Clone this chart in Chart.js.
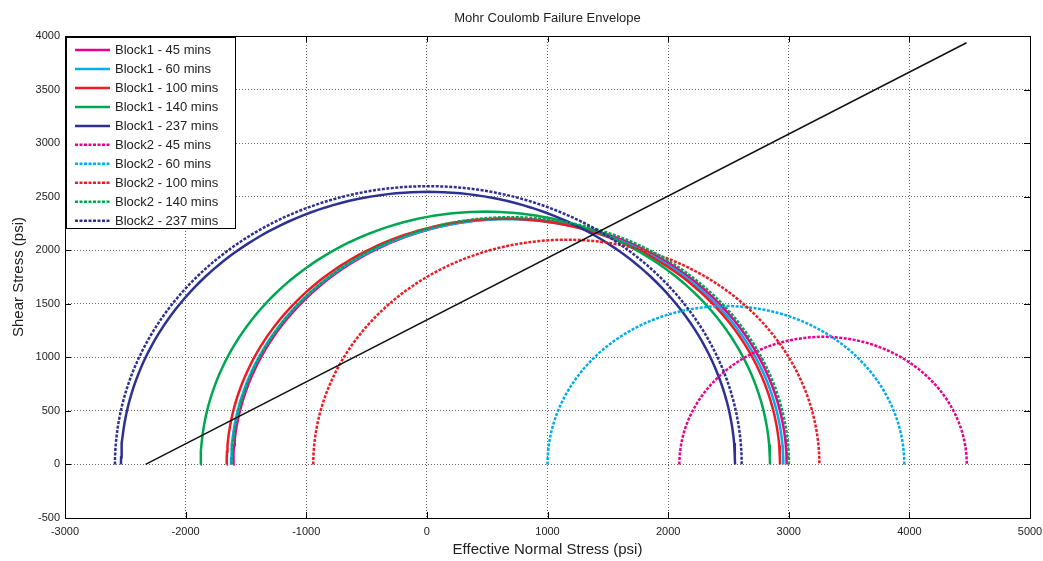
<!DOCTYPE html>
<html>
<head>
<meta charset="utf-8">
<script src="https://cdn.jsdelivr.net/npm/chart.js@4/dist/chart.umd.min.js"></script>
<style>
  html,body{margin:0;padding:0;background:#fff}
  #wrap{width:1043px;height:561px;position:relative}
</style>
</head>
<body>
<div id="wrap"><canvas id="c"></canvas></div>
<script>
// Data
const labels  = ['Block1 - 45 mins','Block1 - 60 mins','Block1 - 100 mins','Block1 - 140 mins','Block1 - 237 mins',
                 'Block2 - 45 mins','Block2 - 60 mins','Block2 - 100 mins','Block2 - 140 mins','Block2 - 237 mins']
const sigmaMin = [-1605,-1624,-1660,-1876,-2536, 2093, 1000, -942,-1615,-2586]   // left end of each circle (psi)
const sigmaMax = [ 2983, 2955, 2928, 2845, 2555, 4476, 3958, 3254, 3002, 2610]   // right end of each circle (psi)
const colors  = ['#EC008C','#00AEEF','#ED1C24','#00A651','#2E3192','#EC008C','#00AEEF','#ED1C24','#00A651','#2E3192']
const dashed  = [false,false,false,false,false,true,true,true,true,true]
const envX = [-2332, 4474]
const envY = [0, 3937]
const xTicks = [-3000,-2000,-1000,0,1000,2000,3000,4000,5000]
const yTicks = [-500,0,500,1000,1500,2000,2500,3000,3500,4000]

// half circle through the two principal stresses
function mohr(s3, s1){
  const c = (s1+s3)/2, r = (s1-s3)/2, pts = []
  for(let i=0;i<=120;i++){
    const t = Math.PI - Math.PI*i/120
    pts.push({x: c + r*Math.cos(t), y: r*Math.sin(t)})
  }
  return pts
}

const datasets = labels.map((l,i)=>({
  label: l,
  data: mohr(sigmaMin[i], sigmaMax[i]),
  borderColor: colors[i],
  borderWidth: 2.5,
  borderDash: dashed[i] ? [3,1.5] : [],
  showLine: true, pointRadius: 0, fill: false, tension: 0,
  order: 20 - i
}))
datasets.push({
  label: 'envelope',
  data: envX.map((x,i)=>({x, y: envY[i]})),
  borderColor: '#111', borderWidth: 1.5,
  showLine: true, pointRadius: 0, fill: false, order: 0
})

const FONT = 'Arial, "Liberation Sans", sans-serif'

// frame, inward ticks, titles, legend
const decor = {
  id: 'decor',
  afterDatasetsDraw(chart){
    const {ctx, chartArea:a, scales:{x, y}} = chart
    ctx.save()
    ctx.strokeStyle = '#000'; ctx.lineWidth = 1
    ctx.strokeRect(a.left+0.5, a.top+0.5, a.right-a.left, a.bottom-a.top)
    ctx.beginPath()
    xTicks.forEach(v=>{
      const px = Math.round(x.getPixelForValue(v))+0.5
      ctx.moveTo(px, a.bottom); ctx.lineTo(px, a.bottom-6)
      ctx.moveTo(px, a.top); ctx.lineTo(px, a.top+6)
    })
    yTicks.forEach(v=>{
      const py = Math.round(y.getPixelForValue(v))+0.5
      ctx.moveTo(a.left, py); ctx.lineTo(a.left+6, py)
      ctx.moveTo(a.right, py); ctx.lineTo(a.right-6, py)
    })
    ctx.stroke()

    // titles
    ctx.fillStyle = '#222'
    ctx.textAlign = 'center'; ctx.textBaseline = 'middle'
    ctx.font = '13px ' + FONT
    ctx.fillText('Mohr Coulomb Failure Envelope', (a.left+a.right)/2, 18)
    ctx.font = '15px ' + FONT
    ctx.fillText('Effective Normal Stress (psi)', (a.left+a.right)/2, 550)
    ctx.save()
    ctx.translate(19, (a.top+a.bottom)/2)
    ctx.rotate(-Math.PI/2)
    ctx.fillText('Shear Stress (psi)', 0, 0)
    ctx.restore()

    // legend
    const lx = 66.5, ly = 37.5, lw = 169, lh = 191
    ctx.fillStyle = '#fff'
    ctx.fillRect(lx, ly, lw, lh)
    ctx.strokeStyle = '#000'; ctx.lineWidth = 1
    ctx.strokeRect(lx, ly, lw, lh)
    ctx.font = '13px ' + FONT
    ctx.textAlign = 'left'
    labels.forEach((l,i)=>{
      const yy = 50 + i*18.97
      ctx.beginPath()
      ctx.strokeStyle = colors[i]; ctx.lineWidth = 2.5
      ctx.setLineDash(dashed[i] ? [3,1.5] : [])
      ctx.moveTo(75, yy); ctx.lineTo(110, yy)
      ctx.stroke()
      ctx.setLineDash([])
      ctx.fillStyle = '#222'
      ctx.fillText(l, 115, yy+0.5)
    })
    ctx.restore()
  }
}

new Chart(document.getElementById('c'), {
  type: 'scatter',
  data: { datasets },
  options: {
    responsive: true, maintainAspectRatio: false,
    animation: false,
    layout: { padding: { top: 36, right: 13, left: 0, bottom: 0 } },
    plugins: { legend: { display: false }, tooltip: { enabled: false }, title: { display: false } },
    scales: {
      x: {
        type: 'linear', min: -3000, max: 5000,
        afterBuildTicks: s => { s.ticks = xTicks.map(v=>({value:v})) },
        afterFit: s => { s.height = 43; s.paddingLeft = 0; s.paddingRight = 0 },
        grid: { color: '#666', lineWidth: 1, drawTicks: false },
        border: { display: false, dash: [1,2] },
        ticks: { color: '#222', font: { size: 11, family: FONT }, padding: 7, maxRotation: 0, callback: v => String(v) }
      },
      y: {
        type: 'linear', min: -500, max: 4000,
        afterBuildTicks: s => { s.ticks = yTicks.map(v=>({value:v})) },
        afterFit: s => { s.width = 65; s.paddingTop = 0; s.paddingBottom = 0 },
        grid: { color: '#666', lineWidth: 1, drawTicks: false },
        border: { display: false, dash: [1,2] },
        ticks: { color: '#222', font: { size: 11, family: FONT }, padding: 5, callback: v => String(v) }
      }
    }
  },
  plugins: [decor]
})
</script>
</body>
</html>
